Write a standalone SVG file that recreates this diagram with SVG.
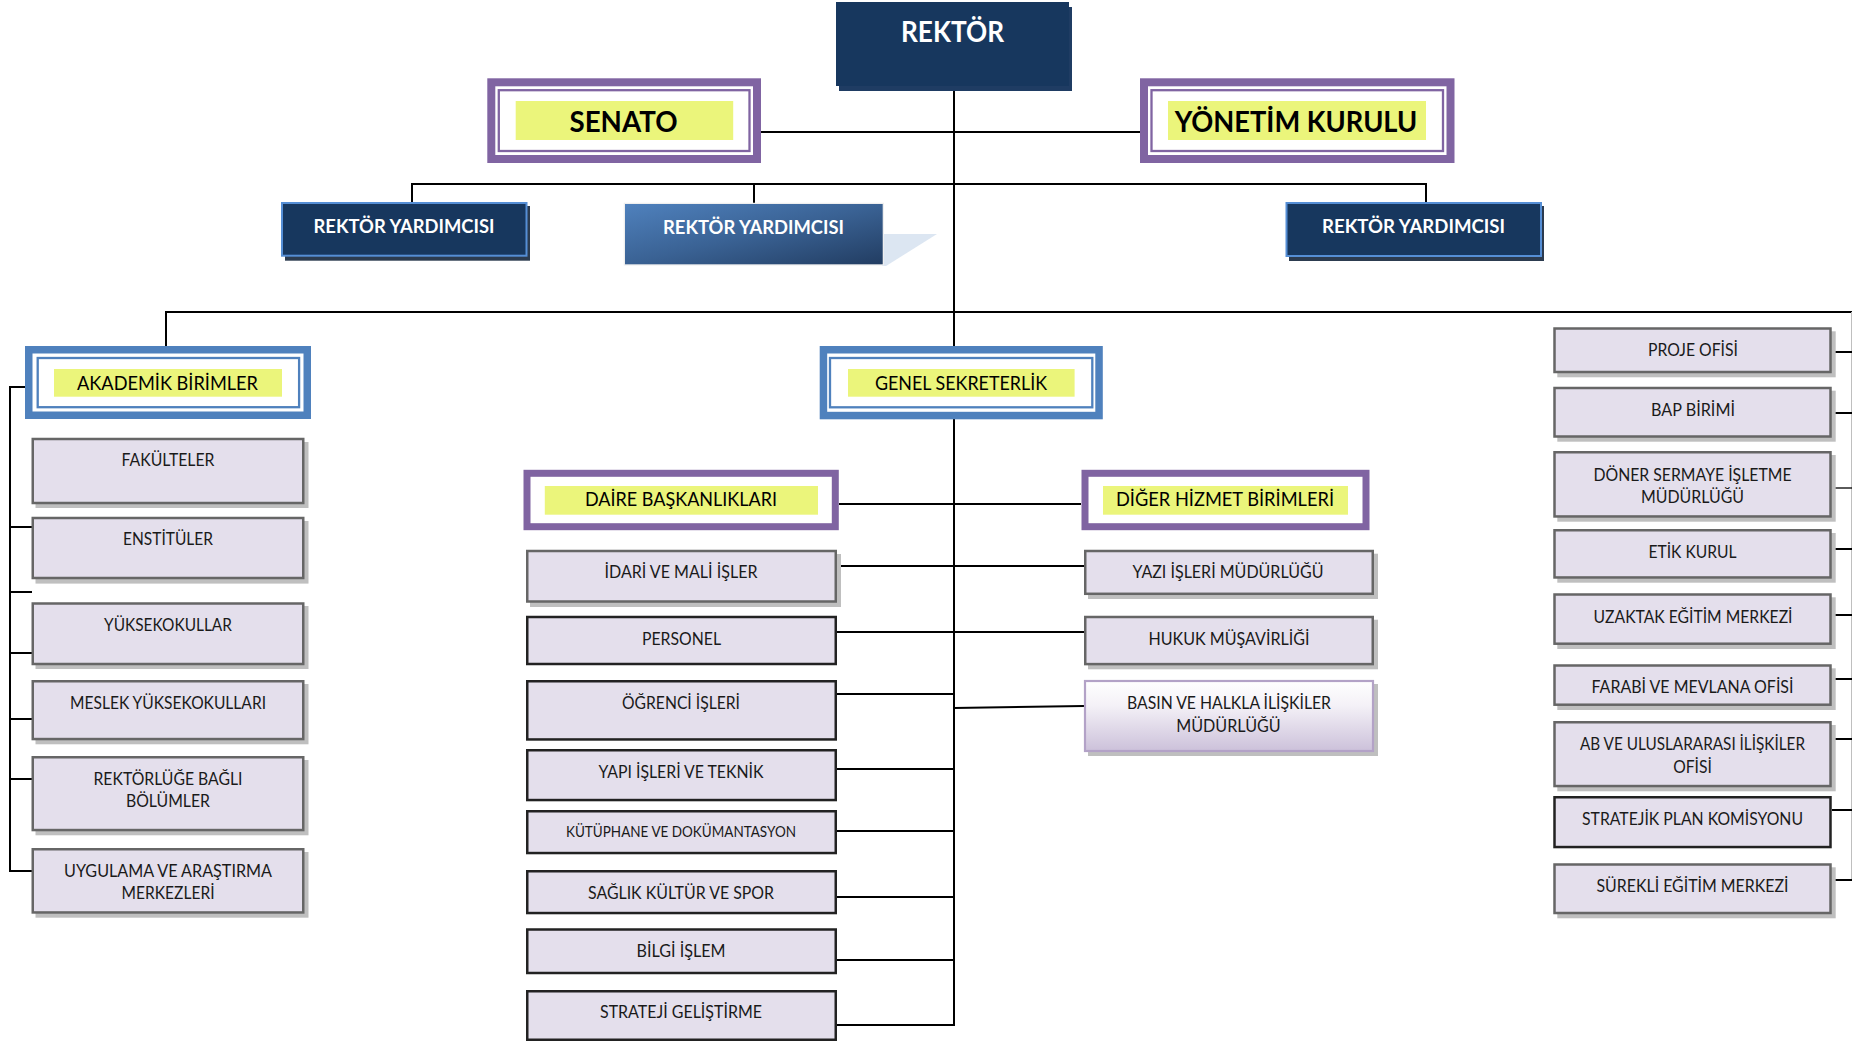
<svg xmlns="http://www.w3.org/2000/svg" width="1852" height="1043" viewBox="0 0 1852 1043">
<defs>
<linearGradient id="gRY" x1="0" y1="0" x2="1" y2="1">
<stop offset="0" stop-color="#4F81BD"/>
<stop offset="0.5" stop-color="#3A6294"/>
<stop offset="1" stop-color="#223D62"/>
</linearGradient>
<linearGradient id="gBasin" x1="0" y1="0" x2="0" y2="1">
<stop offset="0" stop-color="#FFFFFF"/>
<stop offset="0.35" stop-color="#F4F1F7"/>
<stop offset="1" stop-color="#CCC1DA"/>
</linearGradient>
</defs>
<style>
.t{font-family:Lato,"Open Sans","Liberation Sans",sans-serif;font-size:16.5px;fill:#1a1a1a;text-anchor:middle}
.h{font-size:18.5px;fill:#000}
.sm{font-size:15px}
.w{font-weight:700;fill:#fff;font-size:18px}
.big{font-weight:700;font-size:28px;fill:#000}
.ln{stroke:#000;stroke-width:2;fill:none}
.g{fill:#E4DFEC;stroke:#666;stroke-width:2.5}
.k{fill:#E4DFEC;stroke:#222;stroke-width:2.5}
.sh{fill:#BFBFBF}
.navy{fill:#17375E;stroke:#558ED5;stroke-width:2}
.nsh{fill:#2C3B4F}
.pT{fill:#fff;stroke:#8064A2;stroke-width:8}
.pt{fill:none;stroke:#8064A2;stroke-width:2.3}
.bT{fill:#fff;stroke:#4F81BD;stroke-width:7.5}
.bt{fill:none;stroke:#4F81BD;stroke-width:2.3}
.y{fill:#EBF57B}
</style>

<g id="connectors">
<line class="ln" x1="954" y1="86" x2="954" y2="353"/>
<line class="ln" x1="954" y1="413" x2="954" y2="1026"/>
<line class="ln" x1="754" y1="132" x2="1147" y2="132"/>
<line class="ln" x1="411" y1="184" x2="1427" y2="184"/>
<line class="ln" x1="412" y1="183" x2="412" y2="203"/>
<line class="ln" x1="754" y1="183" x2="754" y2="204"/>
<line class="ln" x1="1426" y1="183" x2="1426" y2="203"/>
<line class="ln" x1="165" y1="312" x2="1852" y2="312"/>
<line class="ln" x1="166" y1="311" x2="166" y2="353"/>
<polyline class="ln" points="33,387 10,387 10,871 33,871"/>
<line class="ln" x1="10" y1="527" x2="33" y2="527"/>
<line class="ln" x1="10" y1="592" x2="32" y2="592"/>
<line class="ln" x1="10" y1="653" x2="33" y2="653"/>
<line class="ln" x1="10" y1="719" x2="33" y2="719"/>
<line class="ln" x1="10" y1="779" x2="33" y2="779"/>
<line class="ln" x1="839" y1="504" x2="1081" y2="504"/>
<line class="ln" x1="837" y1="566" x2="1084" y2="566"/>
<line class="ln" x1="837" y1="632" x2="1084" y2="632"/>
<line class="ln" x1="837" y1="694" x2="954" y2="694"/>
<line class="ln" x1="954" y1="708" x2="1084" y2="706"/>
<line class="ln" x1="837" y1="769" x2="954" y2="769"/>
<line class="ln" x1="837" y1="831" x2="954" y2="831"/>
<line class="ln" x1="837" y1="897" x2="954" y2="897"/>
<line class="ln" x1="837" y1="960" x2="954" y2="960"/>
<line class="ln" x1="837" y1="1025" x2="955" y2="1025"/>
<line x1="1851.5" y1="312" x2="1851.5" y2="880" stroke="#BFBFBF" stroke-width="1"/>
<line class="ln" x1="1832" y1="352" x2="1852" y2="352"/>
<line class="ln" x1="1832" y1="413" x2="1852" y2="413"/>
<line x1="1832" y1="488" x2="1852" y2="488" stroke="#000" stroke-width="1.3"/>
<line class="ln" x1="1832" y1="549" x2="1852" y2="549"/>
<line class="ln" x1="1832" y1="615" x2="1852" y2="615"/>
<line class="ln" x1="1832" y1="679" x2="1852" y2="679"/>
<line class="ln" x1="1832" y1="739" x2="1852" y2="739"/>
<line class="ln" x1="1832" y1="810" x2="1852" y2="810"/>
<line class="ln" x1="1832" y1="880" x2="1852" y2="880"/>
</g>

<g id="rektor">
<rect x="839" y="7" width="233" height="84" fill="#1F3C63"/>
<rect x="836" y="2" width="233" height="84" fill="#17375E"/>
<text class="t big" x="952.5" y="42" style="fill:#fff" textLength="103" lengthAdjust="spacingAndGlyphs">REKTÖR</text>
</g>

<g id="senato">
<rect class="pT" x="491.3" y="82.3" width="265.7" height="76.7"/>
<rect class="pt" x="498.8" y="90.2" width="250.7" height="60.8"/>
<rect class="y" x="515.7" y="101" width="217.5" height="39"/>
<text class="t big" x="623.5" y="132" textLength="108" lengthAdjust="spacingAndGlyphs">SENATO</text>
</g>

<g id="yonetim-kurulu">
<rect class="pT" x="1144" y="82.3" width="306.5" height="76.7"/>
<rect class="pt" x="1151.5" y="90.2" width="291.5" height="60.8"/>
<rect class="y" x="1168" y="101" width="258" height="39"/>
<text class="t big" x="1296" y="132" textLength="242.5" lengthAdjust="spacingAndGlyphs">YÖNETİM KURULU</text>
</g>

<g id="rektor-yardimcisi-1">
<rect class="nsh" x="285" y="206" width="245" height="54.7"/>
<rect class="navy" x="282" y="203" width="244.5" height="52.7"/>
<text class="t w" x="404" y="233" textLength="181" lengthAdjust="spacingAndGlyphs">REKTÖR YARDIMCISI</text>
</g>

<g id="rektor-yardimcisi-2">
<polygon points="882,234 937,234 886,266 882,266" fill="#DCE6F2"/>
<rect x="624.5" y="203.5" width="258.7" height="61.3" fill="none" stroke="#EFEFEF" stroke-width="1.5"/>
<rect x="625" y="204" width="257.7" height="60.3" fill="url(#gRY)"/>
<text class="t w" x="753.5" y="234" textLength="181" lengthAdjust="spacingAndGlyphs">REKTÖR YARDIMCISI</text>
</g>

<g id="rektor-yardimcisi-3">
<rect class="nsh" x="1289" y="206" width="255" height="55"/>
<rect class="navy" x="1286.5" y="203" width="254.5" height="53"/>
<text class="t w" x="1413.5" y="233" textLength="183" lengthAdjust="spacingAndGlyphs">REKTÖR YARDIMCISI</text>
</g>

<g id="akademik-birimler">
<rect class="bT" x="28.75" y="349.75" width="278.5" height="65.5"/>
<rect class="bt" x="37.7" y="358" width="261.4" height="49.2"/>
<rect class="y" x="54" y="369" width="228" height="27.7"/>
<text class="t h" x="167.5" y="390" textLength="181" lengthAdjust="spacingAndGlyphs">AKADEMİK BİRİMLER</text>
</g>

<g id="genel-sekreterlik">
<rect class="bT" x="823.45" y="349.75" width="275.6" height="65.8"/>
<rect class="bt" x="830" y="358" width="262.3" height="49.3"/>
<rect class="y" x="848" y="369" width="226.6" height="27.7"/>
<text class="t h" x="961" y="390" textLength="172" lengthAdjust="spacingAndGlyphs">GENEL SEKRETERLİK</text>
</g>

<g id="daire-baskanliklari">
<rect class="pT" x="527" y="473.3" width="308.3" height="53.4" style="stroke-width:7"/>
<rect class="y" x="544.8" y="486" width="273.2" height="28.7"/>
<text class="t h" x="681" y="505.7" textLength="192" lengthAdjust="spacingAndGlyphs">DAİRE BAŞKANLIKLARI</text>
</g>

<g id="diger-hizmet-birimleri">
<rect class="pT" x="1085" y="473.3" width="281" height="53.4" style="stroke-width:7"/>
<rect class="y" x="1103" y="486" width="245" height="28.7"/>
<text class="t h" x="1225" y="505.7" textLength="218" lengthAdjust="spacingAndGlyphs">DİĞER HİZMET BİRİMLERİ</text>
</g>

<!-- Left column -->
<g id="fakulteler">
<rect class="sh" x="35.5" y="442" width="273" height="66"/>
<rect class="g" x="32.75" y="439" width="270.5" height="64"/>
<text class="t" x="168" y="466" textLength="93" lengthAdjust="spacingAndGlyphs">FAKÜLTELER</text>
</g>
<g id="enstituler">
<rect class="sh" x="35.5" y="521" width="273" height="62.6"/>
<rect class="g" x="32.75" y="518" width="270.5" height="60"/>
<text class="t" x="168" y="545" textLength="90" lengthAdjust="spacingAndGlyphs">ENSTİTÜLER</text>
</g>
<g id="yuksekokullar">
<rect class="sh" x="35.5" y="606" width="273" height="63"/>
<rect class="g" x="32.75" y="603.5" width="270.5" height="60.5"/>
<text class="t" x="168" y="630.7" textLength="128" lengthAdjust="spacingAndGlyphs">YÜKSEKOKULLAR</text>
</g>
<g id="meslek-yuksekokullari">
<rect class="sh" x="35.5" y="684" width="273" height="60.3"/>
<rect class="g" x="32.75" y="681.25" width="270.5" height="57.8"/>
<text class="t" x="168" y="709" textLength="196" lengthAdjust="spacingAndGlyphs">MESLEK YÜKSEKOKULLARI</text>
</g>
<g id="rektorluge-bagli-bolumler">
<rect class="sh" x="35.5" y="760" width="273" height="75.3"/>
<rect class="g" x="32.75" y="757.25" width="270.5" height="72.8"/>
<text class="t" x="168" y="785" textLength="149" lengthAdjust="spacingAndGlyphs">REKTÖRLÜĞE BAĞLI</text>
<text class="t" x="168" y="806.7" textLength="84" lengthAdjust="spacingAndGlyphs">BÖLÜMLER</text>
</g>
<g id="uygulama-arastirma">
<rect class="sh" x="35.5" y="852" width="273" height="65.7"/>
<rect class="g" x="32.75" y="849.25" width="270.5" height="63.2"/>
<text class="t" x="168" y="876.7" textLength="208" lengthAdjust="spacingAndGlyphs">UYGULAMA VE ARAŞTIRMA</text>
<text class="t" x="168" y="899.3" textLength="93" lengthAdjust="spacingAndGlyphs">MERKEZLERİ</text>
</g>

<!-- Middle column -->
<g id="idari-mali">
<rect class="sh" x="530" y="554" width="311" height="53"/>
<rect class="g" x="527.25" y="551" width="308.5" height="50.5"/>
<text class="t" x="681" y="578" textLength="153" lengthAdjust="spacingAndGlyphs">İDARİ VE MALİ İŞLER</text>
</g>
<g id="personel">
<rect class="k" x="527.25" y="617" width="308.5" height="47"/>
<text class="t" x="681.5" y="645" textLength="79" lengthAdjust="spacingAndGlyphs">PERSONEL</text>
</g>
<g id="ogrenci-isleri">
<rect class="k" x="527.25" y="681.25" width="308.5" height="58.2"/>
<text class="t" x="681" y="709" textLength="118" lengthAdjust="spacingAndGlyphs">ÖĞRENCİ İŞLERİ</text>
</g>
<g id="yapi-isleri">
<rect class="k" x="527.25" y="750.25" width="308.5" height="49.8"/>
<text class="t" x="681" y="777.7" textLength="165" lengthAdjust="spacingAndGlyphs">YAPI İŞLERİ VE TEKNİK</text>
</g>
<g id="kutuphane">
<rect class="k" x="527.25" y="811.25" width="308.5" height="41.8"/>
<text class="t sm" x="681" y="837.3" textLength="230" lengthAdjust="spacingAndGlyphs">KÜTÜPHANE VE DOKÜMANTASYON</text>
</g>
<g id="saglik-kultur-spor">
<rect class="k" x="527.25" y="871.25" width="308.5" height="41.8"/>
<text class="t" x="681" y="899.3" textLength="186" lengthAdjust="spacingAndGlyphs">SAĞLIK KÜLTÜR VE SPOR</text>
</g>
<g id="bilgi-islem">
<rect class="k" x="527.25" y="929.5" width="308.5" height="43.5"/>
<text class="t" x="681" y="956.7" textLength="89" lengthAdjust="spacingAndGlyphs">BİLGİ İŞLEM</text>
</g>
<g id="strateji-gelistirme">
<rect class="k" x="527.25" y="991.25" width="308.5" height="48.5"/>
<text class="t" x="681" y="1018.3" textLength="162" lengthAdjust="spacingAndGlyphs">STRATEJİ GELİŞTİRME</text>
</g>

<!-- Right-middle column -->
<g id="yazi-isleri">
<rect class="sh" x="1088" y="553.7" width="290" height="45.3"/>
<rect class="g" x="1085.25" y="551" width="287.5" height="42.8"/>
<text class="t" x="1228" y="578" textLength="191" lengthAdjust="spacingAndGlyphs">YAZI İŞLERİ MÜDÜRLÜĞÜ</text>
</g>
<g id="hukuk-musavirligi">
<rect class="sh" x="1088" y="619.7" width="290" height="49.6"/>
<rect class="g" x="1085.25" y="617" width="287.5" height="47.1"/>
<text class="t" x="1229" y="645" textLength="161" lengthAdjust="spacingAndGlyphs">HUKUK MÜŞAVİRLİĞİ</text>
</g>
<g id="basin-halkla-iliskiler">
<rect class="sh" x="1088" y="684" width="290" height="72"/>
<rect x="1085" y="681" width="288" height="70" fill="url(#gBasin)" stroke="#B3A2C7" stroke-width="2.2"/>
<text class="t" x="1229" y="709" textLength="204" lengthAdjust="spacingAndGlyphs">BASIN VE HALKLA İLİŞKİLER</text>
<text class="t" x="1228.5" y="731.7" textLength="104.5" lengthAdjust="spacingAndGlyphs">MÜDÜRLÜĞÜ</text>
</g>

<!-- Right column -->
<g id="proje-ofisi">
<rect class="sh" x="1557.3" y="331.3" width="278.4" height="46"/>
<rect class="g" x="1554.5" y="328.5" width="276" height="43.5"/>
<text class="t" x="1693" y="355.7" textLength="90" lengthAdjust="spacingAndGlyphs">PROJE OFİSİ</text>
</g>
<g id="bap-birimi">
<rect class="sh" x="1557.3" y="390.7" width="278.4" height="51"/>
<rect class="g" x="1554.5" y="388" width="276" height="48.5"/>
<text class="t" x="1693" y="416" textLength="84" lengthAdjust="spacingAndGlyphs">BAP BİRİMİ</text>
</g>
<g id="doner-sermaye">
<rect class="sh" x="1557.3" y="455" width="278.4" height="66.7"/>
<rect class="g" x="1554.5" y="452.25" width="276" height="64.2"/>
<text class="t" x="1692.5" y="480.7" textLength="198" lengthAdjust="spacingAndGlyphs">DÖNER SERMAYE İŞLETME</text>
<text class="t" x="1692.5" y="503.3" textLength="103" lengthAdjust="spacingAndGlyphs">MÜDÜRLÜĞÜ</text>
</g>
<g id="etik-kurul">
<rect class="sh" x="1557.3" y="533" width="278.4" height="49.7"/>
<rect class="g" x="1554.5" y="530.25" width="276" height="47.2"/>
<text class="t" x="1692.5" y="558.3" textLength="88" lengthAdjust="spacingAndGlyphs">ETİK KURUL</text>
</g>
<g id="uzaktan-egitim">
<rect class="sh" x="1557.3" y="597.3" width="278.4" height="51.7"/>
<rect class="g" x="1554.5" y="594.5" width="276" height="49.2"/>
<text class="t" x="1693" y="623.3" textLength="199" lengthAdjust="spacingAndGlyphs">UZAKTAK EĞİTİM MERKEZİ</text>
</g>
<g id="farabi-mevlana">
<rect class="sh" x="1557.3" y="668.3" width="278.4" height="41.7"/>
<rect class="g" x="1554.5" y="665.5" width="276" height="39.2"/>
<text class="t" x="1692.5" y="693.3" textLength="202" lengthAdjust="spacingAndGlyphs">FARABİ VE MEVLANA OFİSİ</text>
</g>
<g id="ab-uluslararasi">
<rect class="sh" x="1557.3" y="725" width="278.4" height="66.3"/>
<rect class="g" x="1554.5" y="722.25" width="276" height="63.8"/>
<text class="t" x="1692.5" y="750" textLength="225" lengthAdjust="spacingAndGlyphs">AB VE ULUSLARARASI İLİŞKİLER</text>
<text class="t" x="1692.5" y="772.7" textLength="38.7" lengthAdjust="spacingAndGlyphs">OFİSİ</text>
</g>
<g id="stratejik-plan">
<rect class="k" x="1554.5" y="797.25" width="276" height="49.8"/>
<text class="t" x="1692.5" y="825" textLength="221" lengthAdjust="spacingAndGlyphs">STRATEJİK PLAN KOMİSYONU</text>
</g>
<g id="surekli-egitim">
<rect class="sh" x="1557.3" y="867.3" width="278.4" height="51"/>
<rect class="g" x="1554.5" y="864.5" width="276" height="48.5"/>
<text class="t" x="1692.5" y="892.3" textLength="192" lengthAdjust="spacingAndGlyphs">SÜREKLİ EĞİTİM MERKEZİ</text>
</g>
</svg>
